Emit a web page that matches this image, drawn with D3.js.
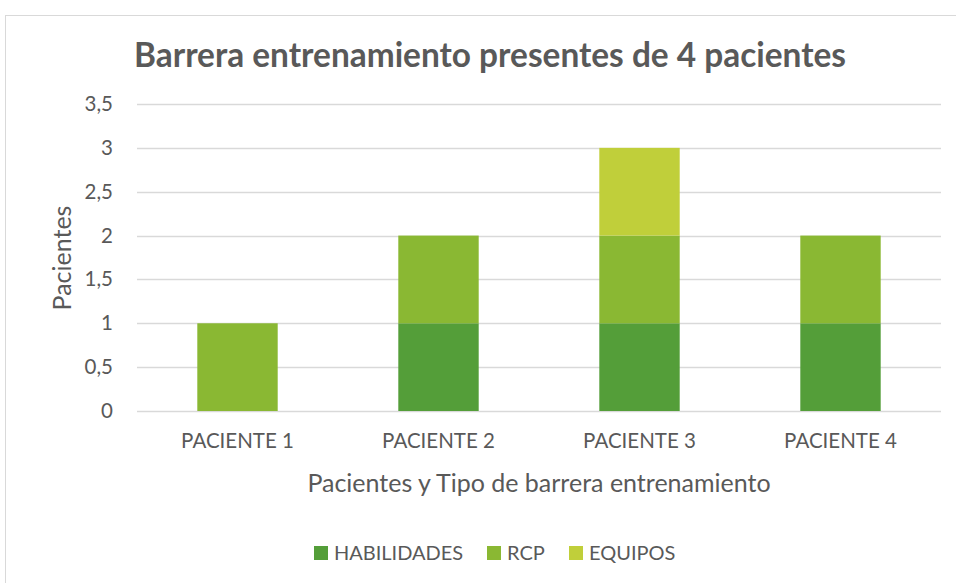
<!DOCTYPE html>
<html><head><meta charset="utf-8">
<script src="https://cdn.jsdelivr.net/npm/d3@7"></script>
<style>body{margin:0;background:#fff;} svg{display:block;}</style>
</head><body>
<svg id="c" width="956" height="583"></svg>
<script>
const categories = ["PACIENTE 1","PACIENTE 2","PACIENTE 3","PACIENTE 4"];
const seriesNames = ["HABILIDADES","RCP","EQUIPOS"];
const habilidades = [0,1,1,1];
const rcp = [1,1,1,1];
const equipos = [0,0,1,0];
const yTicks = [0,0.5,1,1.5,2,2.5,3,3.5];
const colors = ["#549E39","#8AB833","#C0CF3A"];

(function(){
const svg = d3.select("#c");
const font = "Lato, 'Open Sans', sans-serif";
const grey = "#595959";

svg.append("rect").attr("x",5.5).attr("y",15.5).attr("width",960).attr("height",580)
  .attr("fill","#fff").attr("stroke","#d9d9d9");

const pl=137, pr=941, pt=104, pb=411;
const x = d3.scaleBand().domain(categories).range([pl,pr]).paddingInner(0.6).paddingOuter(0.3);
const y = d3.scaleLinear().domain([0,3.5]).range([pb,pt]);

const data = categories.map((c,i)=>({cat:c,HABILIDADES:habilidades[i],RCP:rcp[i],EQUIPOS:equipos[i]}));
const stack = d3.stack().keys(seriesNames)(data);

svg.append("g").selectAll("line").data(yTicks).join("line")
  .attr("x1",pl).attr("x2",pr).attr("y1",d=>Math.round(y(d))+0.5).attr("y2",d=>Math.round(y(d))+0.5)
  .attr("stroke","#d9d9d9").attr("stroke-width",1.5);

svg.append("g").selectAll("g").data(stack).join("g").attr("fill",(d,i)=>colors[i])
  .selectAll("rect").data(d=>d).join("rect")
  .attr("x",d=>x(d.data.cat)).attr("width",x.bandwidth())
  .attr("y",d=>y(d[1])).attr("height",d=>y(d[0])-y(d[1]));

const yAxis = d3.axisLeft(y).tickValues(yTicks).tickSize(0).tickPadding(0)
  .tickFormat(d=>String(d).replace(".",","));
svg.append("g").attr("transform","translate(113,0)").call(yAxis)
  .call(g=>g.select(".domain").remove())
  .selectAll("text").attr("font-family",font).attr("font-size",20.5).attr("fill",grey);

const xAxis = d3.axisBottom(x).tickSize(0).tickPadding(0);
svg.append("g").attr("transform","translate(0,430)").call(xAxis)
  .call(g=>g.select(".domain").remove())
  .selectAll("text").attr("font-family",font).attr("font-size",20.5).attr("fill",grey).attr("dy","0.35em").attr("y",11);

svg.append("text").attr("x",490).attr("y",55).attr("text-anchor","middle").attr("dy","0.35em")
  .attr("font-family",font).attr("font-weight","bold").attr("font-size",33.4).attr("fill",grey)
  .text("Barrera entrenamiento presentes de 4 pacientes");

svg.append("text").attr("transform","translate(62,258) rotate(-90)").attr("text-anchor","middle").attr("dy","0.35em")
  .attr("font-family",font).attr("font-size",25).attr("fill",grey).text("Pacientes");

svg.append("text").attr("x",539).attr("y",483).attr("text-anchor","middle").attr("dy","0.35em")
  .attr("font-family",font).attr("font-size",25).attr("fill",grey).text("Pacientes y Tipo de barrera entrenamiento");

const legX = [314,487,569];
const lg = svg.append("g").selectAll("g").data(seriesNames).join("g")
  .attr("transform",(d,i)=>`translate(${legX[i]},546)`);
lg.append("rect").attr("width",14).attr("height",14).attr("fill",(d,i)=>colors[i]);
lg.append("text").attr("x",20).attr("y",7).attr("dy","0.35em").attr("font-family",font).attr("font-size",20)
  .attr("fill",grey).text(d=>d);
})();
</script>
</body></html>
